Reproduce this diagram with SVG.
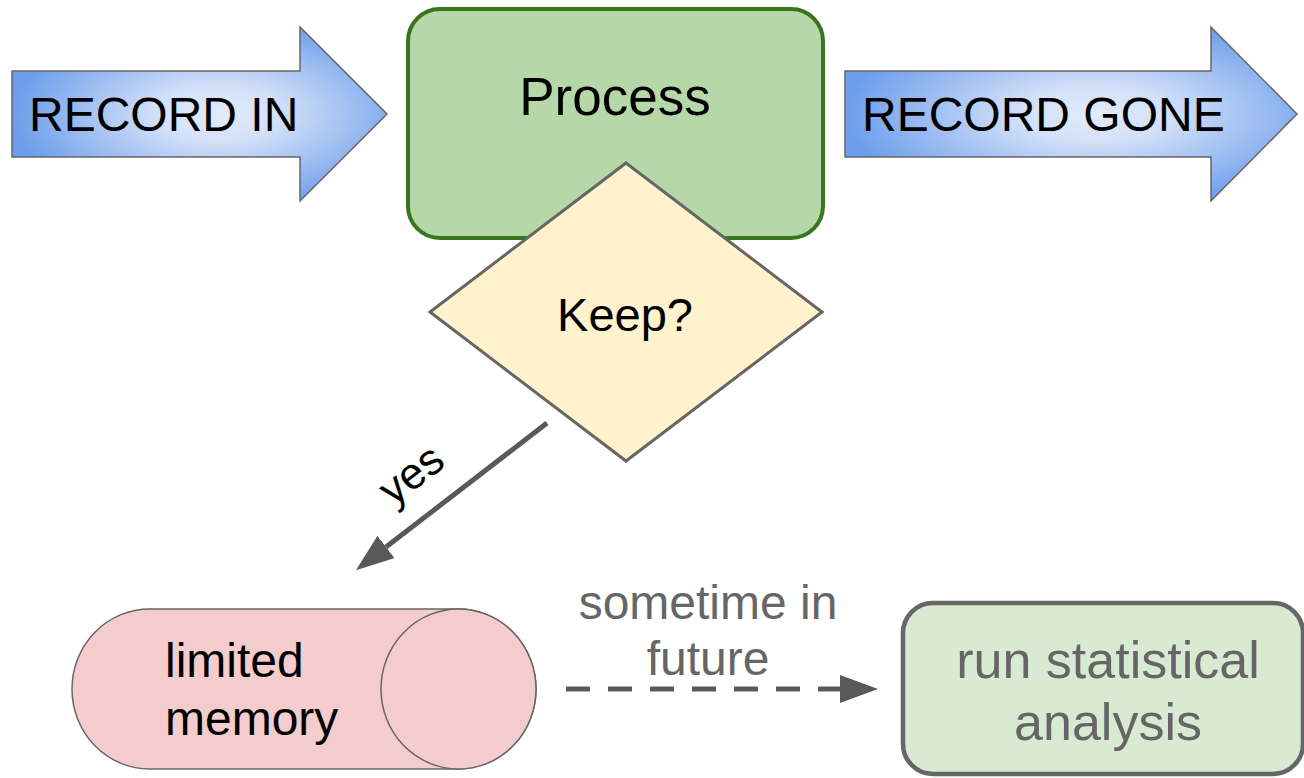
<svg xmlns="http://www.w3.org/2000/svg" width="1304" height="778" viewBox="0 0 1304 778">
  <style>
    text { font-family: "Liberation Sans", Arial, sans-serif; }
    .blk { fill: #000000; }
    .gry { fill: #666666; }
    .block-arrow { fill: url(#blueGlow); stroke: #666666; stroke-width: 1.5; stroke-linejoin: miter; }
    .edge { stroke: #595959; stroke-width: 5; fill: none; }
  </style>
  <defs>
    <radialGradient id="blueGlow" cx="0.55" cy="0.5" r="0.55">
      <stop offset="0" stop-color="#e2ebfb"/>
      <stop offset="0.3" stop-color="#d2e0f8"/>
      <stop offset="1" stop-color="#6d9eeb"/>
    </radialGradient>
    <marker id="head" markerUnits="userSpaceOnUse" markerWidth="38" markerHeight="28" refX="0" refY="14" orient="auto">
      <path d="M0,0 L38,14 L0,28 Z" fill="#595959"/>
    </marker>
  </defs>

  <rect width="1304" height="778" fill="#ffffff"/>

  <!-- incoming block arrow -->
  <g id="record-in">
    <path class="block-arrow" d="M12,71 L300,71 L300,27 L387,114 L300,201 L300,157 L12,157 Z"/>
    <text class="blk" x="29" y="131" font-size="48">RECORD IN</text>
  </g>

  <!-- outgoing block arrow -->
  <g id="record-gone">
    <path class="block-arrow" d="M845,71 L1211,71 L1211,27 L1297,114 L1211,201 L1211,157 L845,157 Z"/>
    <text class="blk" x="862" y="131" font-size="48">RECORD GONE</text>
  </g>

  <!-- main process step -->
  <g id="process">
    <rect x="408" y="9" width="415" height="229" rx="32" ry="32" fill="#b6d7a8" stroke="#38761d" stroke-width="4"/>
    <text class="blk" x="615" y="115" font-size="53" text-anchor="middle">Process</text>
  </g>

  <!-- decision -->
  <g id="keep">
    <polygon points="626,163 822,312 626,461 430,312" fill="#fff2cc" stroke="#666666" stroke-width="3" stroke-linejoin="miter"/>
    <text class="blk" x="625" y="331" font-size="47" text-anchor="middle">Keep?</text>
  </g>

  <!-- storage -->
  <g id="memory">
    <path d="M149.5,609 H458.5 A77.5,80 0 0 1 458.5,769 H149.5 A77.5,80 0 0 1 149.5,609 Z" fill="#f4cccc" stroke="#666666" stroke-width="1.5"/>
    <ellipse cx="458.5" cy="689" rx="77.5" ry="80" fill="#f4cccc" stroke="#666666" stroke-width="1.5"/>
    <text class="blk" x="165" y="677" font-size="48">limited</text>
    <text class="blk" x="165" y="735" font-size="48">memory</text>
  </g>

  <!-- later analysis -->
  <g id="analysis">
    <rect x="903" y="603" width="400" height="171" rx="30" ry="30" fill="#d9ead3" stroke="#666666" stroke-width="4.5"/>
    <text class="gry" x="1108" y="678" font-size="52" text-anchor="middle">run statistical</text>
    <text class="gry" x="1108" y="740" font-size="52" text-anchor="middle">analysis</text>
  </g>

  <!-- connectors -->
  <g id="connectors">
    <line class="edge" x1="547" y1="423" x2="386" y2="547" marker-end="url(#head)"/>
    <text class="blk" font-size="44" text-anchor="middle" transform="translate(420,486) rotate(-37.6)">yes</text>

    <line class="edge" x1="566" y1="689" x2="840" y2="689" stroke-width="5.5" stroke-dasharray="24 18" marker-end="url(#head)"/>
    <text class="gry" x="708" y="619" font-size="48" text-anchor="middle">sometime in</text>
    <text class="gry" x="708" y="675" font-size="48" text-anchor="middle">future</text>
  </g>
</svg>
